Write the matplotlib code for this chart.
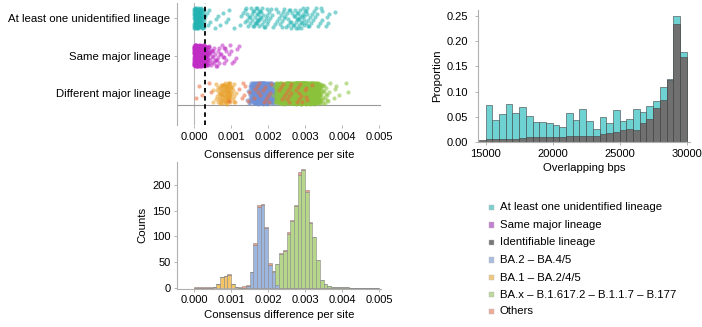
import numpy as np
import matplotlib
matplotlib.use('Agg')
import matplotlib.pyplot as plt
from matplotlib.patches import Rectangle

plt.rcParams['font.family'] = ['Liberation Sans', 'DejaVu Sans']
plt.rcParams['font.size'] = 8.2

# ---------------- data ----------------
bin_width = 0.0001  # consensus-difference bins start at 0.0000

# counts per 0.0001 bin (bin k = k*0.0001 .. (k+1)*0.0001), different major lineage
ba1_counts = [0, 0, 0, 0, 0, 2, 8, 20, 23, 25, 7, 2]
ba2_counts = [0, 0, 0, 0, 0, 0, 0, 0, 0, 0, 0, 0, 0, 0, 3, 30, 84, 158, 161, 116, 44, 30, 5]
bax_counts = [0, 0, 0, 0, 0, 0, 0, 0, 0, 0, 0, 0, 0, 0, 0, 0, 0, 0, 0, 0, 0, 2, 42, 65, 71,
              104, 130, 159, 221, 229, 187, 127, 99, 54, 15, 8, 3, 2, 1, 1, 1, 1]
others_counts = [1, 1, 1, 1, 1, 0, 0, 0, 0, 1, 0, 0, 2, 3, 2, 0, 3, 3, 2, 2, 4, 0, 0, 3, 3,
                 5, 2, 2, 5, 2, 3, 1]

# strip rows: counts per 0.0001 bin
unident_counts = [60, 40, 15, 3, 2, 2, 1, 2, 1, 2, 1, 0, 2, 3, 5, 7, 8, 9, 7, 5, 4, 3, 4, 5,
                  4, 5, 6, 7, 9, 8, 6, 4, 4, 3, 3, 2, 2, 1]
same_counts = [150, 120, 80, 30, 10, 8, 7, 5, 4, 2, 3, 2, 1]
threshold = 0.0003

row_labels = ['Different major lineage', 'Same major lineage', 'At least one unidentified lineage']
x_ticks = [0.000, 0.001, 0.002, 0.003, 0.004, 0.005]
x_tick_labels = ['0.000', '0.001', '0.002', '0.003', '0.004', '0.005']

# overlapping bps histogram (bins of 500 starting at 14500)
bps_bins = [14500, 15000, 15500, 16000, 16500, 17000, 17500, 18000, 18500, 19000, 19500,
            20000, 20500, 21000, 21500, 22000, 22500, 23000, 23500, 24000, 24500, 25000,
            25500, 26000, 26500, 27000, 27500, 28000, 28500, 29000, 29500]
prop_unident = [0.000, 0.073, 0.044, 0.056, 0.075, 0.058, 0.069, 0.052, 0.040, 0.039, 0.038,
                0.034, 0.029, 0.057, 0.044, 0.065, 0.042, 0.026, 0.049, 0.037, 0.063, 0.041,
                0.046, 0.066, 0.059, 0.072, 0.082, 0.110, 0.126, 0.251, 0.178]
prop_ident = [0.004, 0.005, 0.005, 0.006, 0.006, 0.006, 0.008, 0.009, 0.009, 0.009, 0.010,
              0.009, 0.009, 0.011, 0.012, 0.011, 0.012, 0.012, 0.015, 0.017, 0.020, 0.024,
              0.026, 0.024, 0.038, 0.046, 0.068, 0.083, 0.123, 0.234, 0.168]

legend_labels = ['At least one unidentified lineage', 'Same major lineage', 'Identifiable lineage',
                 'BA.2 \u2013 BA.4/5', 'BA.1 \u2013 BA.2/4/5',
                 'BA.x \u2013 B.1.617.2 \u2013 B.1.1.7 \u2013 B.177', 'Others']

# ---------------- styles ----------------
C_TEAL = '#22b2b2'
C_MAG = '#c02cc4'
C_YEL = '#e9a12c'
C_BLU = '#6f90d6'
C_GRN = '#8bc23c'
C_OTH = '#ea6a3c'

H_TEAL = '#6fd2d2'
H_DARK = '#707070'
H_YEL = '#f3c468'
H_BLU = '#9db6e0'
H_GRN = '#b6d68a'
H_OTH = '#eda08a'

L_COLORS = ['#7ccfcf', '#c27fd0', '#777777', '#a9bde0', '#efc981', '#bcd89a', '#efaa98']

TICK_FS = 8.0
LAB_FS = 8.2

W, H = 702, 327
fig = plt.figure(figsize=(W / 100, H / 100), dpi=100)


def fx(px):
    return px / W


def fy(py):
    return 1 - py / H


XL = (-0.00045, 0.00505)
ax_left_px = 177.4
ax_w_px = 203.5

# ---------------- strip plot ----------------
ax1 = fig.add_axes([fx(ax_left_px), fy(125), ax_w_px / W, 122 / H])


def spread(counts, row, start_index=0):
    a1, a2 = 0.7548776662, 0.5698402910
    xs, ys = [], []
    i = start_index
    for k, c in enumerate(counts):
        for _ in range(c):
            i += 1
            u = (0.5 + i * a1) % 1
            v = (0.5 + i * a2) % 1
            xs.append((k + u) * bin_width)
            ys.append(row + (v - 0.5) * 0.56)
    return xs, ys


ax1.axvline(0, color='#b8b8b8', lw=0.8, zorder=1)
ax1.axhline(-0.32, color='#9a9a9a', lw=0.8, zorder=1)

for counts, row, col, si in [(unident_counts, 2, C_TEAL, 0), (same_counts, 1, C_MAG, 0),
                             (ba1_counts, 0, C_YEL, 0), (ba2_counts, 0, C_BLU, 300),
                             (bax_counts, 0, C_GRN, 1500), (others_counts, 0, C_OTH, 5000)]:
    xs, ys = spread(counts, row, si)
    ax1.scatter(xs, ys, s=9, color=col, alpha=0.55, linewidths=0, zorder=2)

ax1.axvline(threshold, color='black', lw=1.3, ls=(0, (2.5, 2)), zorder=3)
ax1.set_xlim(*XL)
ax1.set_ylim(-0.85, 2.4)
ax1.set_yticks([0, 1, 2])
ax1.set_yticklabels(row_labels)
ax1.set_xticks(x_ticks)
ax1.set_xticklabels(x_tick_labels)
ax1.set_xlabel('Consensus difference per site', labelpad=6, fontsize=LAB_FS)
for s in ['top', 'right', 'bottom']:
    ax1.spines[s].set_visible(False)
ax1.spines['left'].set_color('#b0b0b0')
ax1.spines['left'].set_linewidth(0.8)
ax1.tick_params(axis='both', length=2, width=0.6, color='#aaaaaa', pad=3, labelsize=TICK_FS)
ax1.tick_params(axis='y', labelsize=LAB_FS)

# ---------------- bottom-left histogram ----------------
ax2 = fig.add_axes([fx(ax_left_px), fy(288.5), ax_w_px / W, 126.5 / H])
nb = 50
edges = np.arange(nb) * bin_width


def padded(c):
    return np.array(list(c) + [0] * (nb - len(c)), dtype=float)


y1, y2, y3, y4 = padded(ba1_counts), padded(ba2_counts), padded(bax_counts), padded(others_counts)
ekw = dict(width=bin_width, align='edge', edgecolor='#8a8a8a', linewidth=0.4)
ax2.bar(edges, y1, color=H_YEL, **ekw)
ax2.bar(edges, y2, bottom=y1, color=H_BLU, **ekw)
ax2.bar(edges, y3, bottom=y1 + y2, color=H_GRN, **ekw)
ax2.bar(edges, y4, bottom=y1 + y2 + y3, color=H_OTH, **ekw)
ax2.set_xlim(*XL)
ax2.set_ylim(-1.6, 245.5)
ax2.set_xticks(x_ticks)
ax2.set_xticklabels(x_tick_labels)
ax2.set_yticks([0, 50, 100, 150, 200])
ax2.set_xlabel('Consensus difference per site', labelpad=3, fontsize=LAB_FS)
ax2.set_ylabel('Counts', labelpad=3, fontsize=LAB_FS)
for s in ['top', 'right']:
    ax2.spines[s].set_visible(False)
for s in ['left', 'bottom']:
    ax2.spines[s].set_color('#b0b0b0')
    ax2.spines[s].set_linewidth(0.8)
ax2.tick_params(axis='both', length=2, width=0.6, color='#aaaaaa', pad=3, labelsize=TICK_FS)

# ---------------- top-right histogram ----------------
ax3 = fig.add_axes([fx(478), fy(142), 212 / W, 132 / H])
hkw = dict(width=500, align='edge', edgecolor='#404040', linewidth=0.4)
ax3.bar(bps_bins, prop_unident, color=H_TEAL, **hkw)
ax3.bar(bps_bins, prop_ident, color=H_DARK, **hkw)
ax3.set_xlim(14430, 30250)
ax3.set_ylim(0, 0.262)
ax3.set_xticks([15000, 20000, 25000, 30000])
ax3.set_yticks([0, 0.05, 0.10, 0.15, 0.20, 0.25])
ax3.set_yticklabels(['0.00', '0.05', '0.10', '0.15', '0.20', '0.25'])
ax3.set_xlabel('Overlapping bps', labelpad=3, fontsize=LAB_FS)
ax3.set_ylabel('Proportion', labelpad=3, fontsize=LAB_FS)
for s in ['top', 'right']:
    ax3.spines[s].set_visible(False)
for s in ['left', 'bottom']:
    ax3.spines[s].set_color('#b0b0b0')
    ax3.spines[s].set_linewidth(0.8)
ax3.tick_params(axis='both', length=2, width=0.6, color='#aaaaaa', pad=3, labelsize=TICK_FS)
ax3.tick_params(axis='y', pad=5)

# ---------------- legend ----------------
rows_py = [207.3, 225.0, 242.3, 260.0, 277.7, 294.8, 311.5]
for py, lab, col in zip(rows_py, legend_labels, L_COLORS):
    fig.add_artist(Rectangle((fx(489.3), fy(py + 2.6)), 5.2 / W, 5.2 / H,
                             transform=fig.transFigure, facecolor=col,
                             edgecolor='#bbbbbb', linewidth=0.3))
    fig.text(fx(499.5), fy(py), lab, ha='left', va='center', fontsize=LAB_FS)

fig.savefig('out.png', dpi=100)
